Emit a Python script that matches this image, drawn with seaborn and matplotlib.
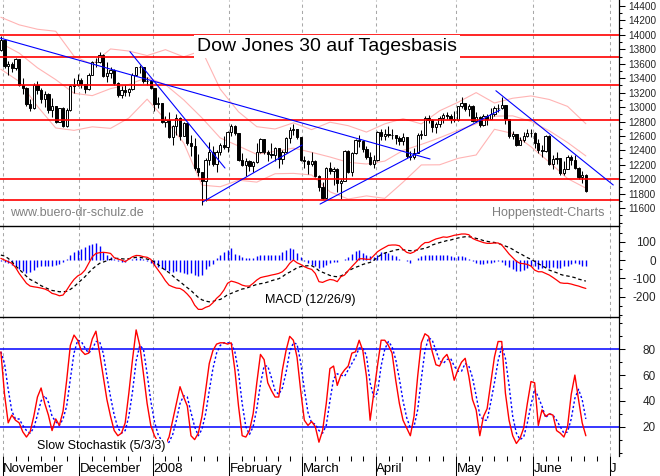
import numpy as np
import pandas as pd
import matplotlib
matplotlib.use("Agg")
import matplotlib.pyplot as plt
import seaborn as sns
from matplotlib.transforms import blended_transform_factory

# --- Data (trading day 0 = 31 Oct 2007 ... 160 = 20 Jun 2008) ---
opens = [
    13792,
    13930, 13568, 13595, 13543, 13661, 13300, 13266, 13043, 12988, 13307,
    13231, 13110, 13177, 12958, 13010, 12799, 12981, 12743, 12958, 13289,
    13312, 13372, 13315, 13249, 13445, 13620, 13626, 13727, 13433, 13474,
    13518, 13340, 13167, 13232, 13207, 13246, 13451, 13549, 13552, 13360,
    13366, 13265, 13044, 13057, 12800, 12827, 12589, 12735, 12853, 12606,
    12778, 12501, 12466, 12159, 12099, 11971, 12270, 12378, 12207, 12384,
    12480, 12443, 12650, 12743, 12635, 12265, 12200, 12247, 12182, 12240,
    12373, 12552, 12377, 12348, 12337, 12427, 12284, 12381, 12570, 12685,
    12694, 12582, 12266, 12259, 12214, 12255, 12040, 11894, 11740, 12157,
    12110, 12146, 11951, 11972, 12393, 12100, 12361, 12549, 12533, 12423,
    12302, 12216, 12263, 12654, 12606, 12626, 12609, 12612, 12576, 12527,
    12582, 12325, 12302, 12362, 12619, 12620, 12849, 12825, 12720, 12763,
    12849, 12892, 12872, 12831, 12820, 13010, 13058, 12970, 13021, 12814,
    12867, 12746, 12876, 12832, 12898, 12993, 12987, 13028, 12829, 12601,
    12626, 12480, 12548, 12594, 12646, 12638, 12504, 12403, 12390, 12604,
    12210, 12280, 12290, 12084, 12142, 12307, 12269, 12160, 12029, 12063,
]
highs = [
    13990,
    13930, 13640, 13620, 13680, 13670, 13400, 13280, 13110, 13330, 13360,
    13270, 13220, 13190, 13120, 13010, 12990, 13000, 12990, 13300, 13400,
    13460, 13400, 13320, 13470, 13640, 13680, 13760, 13740, 13620, 13560,
    13530, 13350, 13290, 13300, 13270, 13470, 13560, 13580, 13560, 13420,
    13380, 13270, 13140, 13060, 12880, 12930, 12750, 12900, 12860, 12800,
    12780, 12610, 12570, 12350, 12100, 12290, 12520, 12460, 12400, 12500,
    12600, 12670, 12770, 12750, 12640, 12370, 12290, 12270, 12260, 12500,
    12570, 12560, 12400, 12500, 12450, 12440, 12400, 12590, 12720, 12760,
    12700, 12590, 12320, 12270, 12380, 12270, 12060, 11960, 12170, 12240,
    12170, 12160, 12010, 12400, 12400, 12380, 12560, 12610, 12540, 12460,
    12380, 12330, 12670, 12700, 12700, 12740, 12700, 12620, 12600, 12640,
    12590, 12390, 12430, 12640, 12680, 12880, 12890, 12830, 12790, 12880,
    12920, 12930, 12900, 12950, 13020, 13140, 13060, 13040, 13030, 12930,
    12880, 12910, 12900, 12990, 13010, 13050, 13140, 13030, 12830, 12670,
    12630, 12580, 12650, 12700, 12700, 12650, 12560, 12480, 12620, 12620,
    12330, 12380, 12300, 12250, 12330, 12340, 12330, 12170, 12120, 12070,
]
lows = [
    13780,
    13540, 13440, 13480, 13520, 13290, 13180, 13010, 12940, 12980, 13180,
    13060, 13000, 12920, 12870, 12780, 12790, 12720, 12730, 12950, 13200,
    13290, 13260, 13200, 13240, 13440, 13560, 13610, 13420, 13350, 13400,
    13300, 13140, 13120, 13150, 13150, 13240, 13440, 13470, 13340, 13300,
    13250, 12950, 12990, 12780, 12730, 12570, 12480, 12620, 12550, 12600,
    12480, 12320, 12130, 12050, 11640, 11700, 12200, 12180, 12100, 12340,
    12420, 12380, 12600, 12610, 12250, 12180, 12050, 12110, 12100, 12230,
    12360, 12350, 12250, 12300, 12250, 12160, 12210, 12360, 12500, 12620,
    12560, 12250, 12160, 12080, 12190, 12030, 11840, 11730, 11740, 12070,
    11920, 11830, 11730, 11970, 12090, 12050, 12350, 12450, 12380, 12280,
    12200, 12160, 12260, 12540, 12540, 12590, 12560, 12490, 12470, 12480,
    12290, 12270, 12280, 12360, 12560, 12620, 12780, 12660, 12640, 12720,
    12780, 12840, 12780, 12800, 12810, 12990, 12940, 12880, 12800, 12790,
    12720, 12740, 12750, 12830, 12880, 12930, 12970, 12770, 12570, 12560,
    12460, 12470, 12520, 12580, 12590, 12440, 12360, 12310, 12380, 12200,
    12140, 12210, 12060, 12060, 12140, 12200, 12140, 12000, 11950, 11820,
]
closes = [
    13930,
    13568, 13595, 13543, 13661, 13300, 13266, 13043, 12988, 13307, 13231,
    13110, 13177, 12958, 13010, 12799, 12981, 12743, 12958, 13289, 13312,
    13372, 13315, 13249, 13445, 13620, 13626, 13727, 13433, 13474, 13518,
    13340, 13167, 13232, 13207, 13246, 13451, 13549, 13552, 13360, 13366,
    13265, 13044, 13057, 12800, 12827, 12589, 12735, 12853, 12606, 12778,
    12501, 12466, 12159, 12099, 11971, 12270, 12378, 12207, 12384, 12480,
    12443, 12650, 12743, 12635, 12265, 12200, 12247, 12182, 12240, 12373,
    12552, 12377, 12348, 12337, 12427, 12284, 12381, 12570, 12685, 12694,
    12582, 12266, 12259, 12214, 12255, 12040, 11894, 11740, 12157, 12110,
    12146, 11951, 11972, 12393, 12100, 12361, 12549, 12533, 12423, 12302,
    12216, 12263, 12654, 12606, 12626, 12609, 12612, 12576, 12527, 12582,
    12325, 12302, 12362, 12619, 12620, 12849, 12825, 12720, 12763, 12849,
    12892, 12872, 12831, 12820, 13010, 13058, 12970, 13021, 12814, 12867,
    12746, 12876, 12832, 12898, 12993, 12987, 13028, 12829, 12601, 12626,
    12480, 12548, 12594, 12646, 12638, 12504, 12403, 12390, 12604, 12210,
    12280, 12290, 12084, 12142, 12307, 12269, 12160, 12029, 12063, 11843,
]

# Bollinger bands, read every 5th trading day
bb_day = [0, 5, 10, 15, 20, 25, 30, 35, 40, 45, 50, 55, 60, 65, 70, 75, 80,
          85, 90, 95, 100, 105, 110, 115, 120, 125, 130, 135, 140, 145, 150, 155, 160]
bb_mid = [13885, 13748, 13545, 13381, 13192, 13159, 13256, 13313, 13412, 13312, 13101,
          12851, 12573, 12461, 12345, 12387, 12432, 12374, 12309, 12235, 12212, 12252,
          12400, 12483, 12575, 12678, 12769, 12875, 12879, 12803, 12672, 12510, 12324]
bb_upper = [14245, 14140, 14079, 14051, 13706, 13591, 13806, 13777, 13714, 13796, 13697,
            13783, 13249, 12935, 12729, 12697, 12782, 12688, 12791, 12743, 12654, 12768,
            12840, 12767, 12949, 13066, 13201, 13057, 13123, 13155, 13106, 13010, 12770]
bb_lower = [13525, 13356, 13011, 12711, 12678, 12727, 12706, 12849, 13110, 12828, 12505,
            11919, 11897, 11987, 11961, 12077, 12082, 12060, 11827, 11727, 11770, 11736,
            11960, 12199, 12201, 12290, 12337, 12693, 12635, 12451, 12238, 12010, 11878]

# support / resistance lines and trend lines (start day, start price, end day, end price)
resistance = [14000, 13690, 13310, 12820, 12000, 11715]
trend_x0 = [-0.2, 35.3, 55.3, 87.3, 135.4]
trend_y0 = [13957, 13768, 11689, 11657, 13227]
trend_x1 = [117.4, 61.3, 82.4, 136.5, 167.5]
trend_y1 = [12281, 12156, 12475, 12960, 11921]

macd_line = [
    9, 0, -9, -18, -40, -73, -100, -127, -142, -146,
    -149, -153, -158, -167, -182, -187, -195, -191, -164, -133,
    -106, -87, -76, -55, -18, 18, 36, 40, 42, 40,
    36, 13, 5, 0, -9, 5, 18, 25, 24, 18,
    15, 4, -27, -55, -82, -113, -137, -146, -153, -155,
    -167, -186, -209, -246, -269, -269, -258, -251, -233, -209,
    -191, -164, -127, -115, -120, -127, -137, -142, -142, -127,
    -109, -96, -91, -87, -82, -78, -73, -64, -45, -18,
    0, -15, -24, -36, -45, -51, -73, -118, -122, -113,
    -106, -109, -118, -91, -82, -58, -36, -15, 7, 7,
    4, 4, 24, 45, 58, 69, 80, 82, 82, 78,
    58, 42, 36, 44, 58, 80, 95, 96, 106, 115,
    120, 126, 124, 129, 135, 138, 142, 142, 138, 118,
    109, 102, 95, 91, 91, 93, 93, 82, 58, 33,
    13, -7, -18, -20, -24, -33, -55, -64, -64, -73,
    -82, -95, -109, -124, -127, -127, -131, -137, -142, -149,
    -155,
]
signal_line = [
    27, 22, 9, -9, -31, -51, -69, -89, -106, -116,
    -127, -140, -149, -158, -166, -169, -173, -173, -171, -160,
    -146, -127, -109, -91, -69, -49, -33, -18, -11, -4,
    4, 9, 9, 7, 5, 7, 11, 15, 15, 11,
    5, 0, -11, -24, -42, -55, -69, -86, -104, -118,
    -135, -151, -166, -186, -204, -217, -224, -228, -226, -218,
    -215, -204, -189, -182, -173, -166, -158, -155, -147, -140,
    -133, -129, -126, -120, -113, -107, -102, -91, -76, -66,
    -55, -42, -36, -33, -31, -31, -42, -58, -67, -75,
    -84, -89, -91, -87, -76, -60, -49, -40, -33, -24,
    -18, -13, -2, 15, 29, 38, 44, 49, 55, 58,
    56, 53, 51, 51, 55, 60, 64, 71, 82, 89,
    95, 100, 106, 109, 115, 120, 124, 127, 127, 124,
    118, 113, 106, 102, 98, 96, 91, 84, 76, 69,
    58, 45, 36, 24, 13, 4, -7, -20, -31, -42,
    -55, -62, -69, -78, -84, -87, -91, -96, -104, -109,
    -115,
]
macd_hist = [
    -5, -10, -15, -25, -35, -50, -60, -70, -65, -55,
    -40, -35, -35, -30, -30, -28, -20, -10, 5, 25,
    45, 55, 60, 70, 80, 85, 95, 75, 45, 30,
    15, 5, -5, -10, -10, 0, 5, 10, 10, 5,
    -5, -15, -25, -40, -45, -55, -60, -65, -60, -65,
    -70, -75, -70, -80, -85, -80, -50, -35, -20, 10,
    30, 45, 55, 65, 35, 25, 15, 10, 10, 10,
    20, 30, 30, 30, 30, 25, 30, 45, 55, 65,
    60, 40, 15, -5, -15, -25, -35, -45, -40, -25,
    -15, -10, -10, 0, 5, 15, 35, 50, 55, 40,
    30, 20, 15, 30, 45, 45, 40, 30, 20, 5,
    0, -5, -15, 0, 10, 20, 30, 30, 25, 25,
    25, 25, 25, 20, 15, 20, 20, 15, 5, -5,
    -15, -20, -20, -15, -15, -10, -5, -10, -25, -40,
    -50, -60, -60, -55, -45, -30, -35, -50, -45, -40,
    -45, -40, -45, -45, -35, -30, -20, -15, -20, -30,
    -35,
]
stoch_k = [
    78, 45, 23, 29, 25, 23, 16, 12, 16, 28,
    43, 50, 38, 29, 17, 26, 21, 32, 56, 83,
    91, 87, 79, 76, 77, 88, 94, 77, 59, 41,
    28, 17, 13, 15, 23, 46, 72, 95, 83, 61,
    38, 21, 13, 8, 5, 6, 12, 25, 38, 51,
    43, 36, 13, 10, 15, 28, 48, 69, 79, 84,
    85, 85, 84, 85, 64, 36, 13, 12, 17, 30,
    54, 76, 72, 54, 48, 43, 43, 64, 79, 90,
    87, 74, 48, 25, 21, 24, 20, 8, 17, 38,
    65, 67, 52, 60, 64, 67, 77, 78, 87, 79,
    59, 25, 46, 67, 87, 87, 83, 77, 56, 38,
    25, 19, 13, 28, 59, 85, 92, 90, 78, 68,
    67, 73, 76, 69, 56, 64, 70, 73, 59, 41,
    33, 13, 28, 34, 54, 74, 86, 86, 46, 25,
    13, 7, 11, 19, 38, 55, 54, 21, 33, 28,
    30, 29, 17, 15, 12, 20, 45, 60, 41, 23,
    13,
]
stoch_d = [
    78, 69, 49, 32, 26, 26, 21, 17, 15, 19,
    29, 40, 44, 39, 28, 24, 21, 26, 36, 57,
    77, 87, 86, 81, 77, 80, 86, 86, 77, 59,
    43, 29, 19, 15, 17, 28, 47, 71, 83, 80,
    61, 40, 24, 14, 9, 6, 8, 14, 25, 38,
    44, 43, 31, 20, 13, 18, 30, 48, 65, 77,
    83, 85, 85, 85, 78, 62, 38, 20, 14, 20,
    34, 53, 67, 67, 58, 48, 45, 50, 62, 78,
    85, 84, 70, 49, 31, 23, 22, 17, 15, 21,
    40, 57, 61, 60, 59, 64, 69, 74, 81, 81,
    75, 54, 43, 46, 67, 80, 86, 82, 72, 57,
    40, 27, 19, 20, 33, 57, 79, 89, 87, 79,
    71, 69, 72, 73, 67, 63, 63, 69, 67, 58,
    44, 29, 25, 25, 39, 54, 71, 82, 73, 52,
    28, 15, 10, 12, 23, 37, 49, 43, 36, 27,
    30, 29, 25, 20, 15, 16, 26, 42, 49, 41,
    26,
]

# first trading day of each month (index), and month captions
month_first_day = [1, 22, 42, 63, 83, 103, 125, 146, 167]
month_names = ["November", "December", "2008", "February", "March",
               "April", "May", "June", "J"]

# --- Style ---
sns.set_style("white")
plt.rcParams["font.family"] = ["Liberation Sans", "DejaVu Sans"]
plt.rcParams["axes.unicode_minus"] = False

W, H = 660, 476
AX_RIGHT = 619          # pixel column of the right-hand scale
PT = 0.72               # points per pixel at 100 dpi

fig = plt.figure(figsize=(W / 100, H / 100), dpi=100)


def add_panel(top, bottom):
    ax = fig.add_axes([0, 1 - bottom / H, AX_RIGHT / W, (bottom - top) / H])
    ax.set_facecolor("white")
    for side in ["left", "bottom", "top"]:
        ax.spines[side].set_visible(False)
    ax.spines["right"].set_color("black")
    ax.spines["right"].set_linewidth(0.9)
    return ax


ax_p = add_panel(0, 226)
ax_m = add_panel(226, 317)
ax_s = add_panel(317, 456)
for ax in (ax_m, ax_s):
    ax.spines["top"].set_visible(True)
    ax.spines["top"].set_color("black")
    ax.spines["top"].set_linewidth(1.0)

days = np.arange(len(closes))
o = np.array(opens, dtype=float)
c = np.array(closes, dtype=float)
bounds = np.array(month_first_day) - 0.5

# month separators (dashed grey)
for ax in (ax_p, ax_m, ax_s):
    for b in bounds:
        ax.axvline(b, color="#a8a8a8", lw=0.75, ls=(0, (3, 3)), zorder=0)

# --- Price panel ---
df_bb = pd.DataFrame({"day": bb_day, "mid": bb_mid, "upper": bb_upper, "lower": bb_lower})
for col in ["upper", "mid", "lower"]:
    sns.lineplot(data=df_bb, x="day", y=col, color="#ffb4b4", linewidth=0.8,
                 ax=ax_p, legend=False, errorbar=None, zorder=1)

ax_p.vlines(days, lows, highs, color="black", lw=0.75, zorder=2)
up = c >= o
ax_p.bar(days, np.maximum(np.abs(c - o), 6), bottom=np.minimum(o, c), width=0.62,
         color=np.where(up, "white", "black"), edgecolor="black", linewidth=0.7, zorder=2.5)

for v in resistance:
    ax_p.axhline(v, color="red", lw=1.2, zorder=3)
for x0, y0, x1, y1 in zip(trend_x0, trend_y0, trend_x1, trend_y1):
    ax_p.plot([x0, x1], [y0, y1], color="blue", lw=0.8, zorder=4)

ax_p.set_ylim(11353, 14484)

# --- MACD panel ---
df_macd = pd.DataFrame({"day": days, "macd": macd_line, "signal": signal_line, "hist": macd_hist})
ax_m.vlines(df_macd["day"], 0, df_macd["hist"], color="blue", lw=1.0, zorder=2)
sns.lineplot(data=df_macd, x="day", y="signal", color="black", linewidth=0.9,
             linestyle=(0, (2.8, 2.2)), ax=ax_m, legend=False, errorbar=None, zorder=3)
sns.lineplot(data=df_macd, x="day", y="macd", color="red", linewidth=0.9,
             ax=ax_m, legend=False, errorbar=None, zorder=3)
ax_m.set_ylim(-310.7, 185.6)

# --- Stochastic panel ---
df_sto = pd.DataFrame({"day": days, "k": stoch_k, "d": stoch_d})
ax_s.axhline(80, color="blue", lw=1.1, zorder=2)
ax_s.axhline(20, color="blue", lw=1.1, zorder=2)
sns.lineplot(data=df_sto, x="day", y="d", color="blue", linewidth=1.0,
             linestyle=(0, (1.6, 1.6)), ax=ax_s, legend=False, errorbar=None, zorder=3)
sns.lineplot(data=df_sto, x="day", y="k", color="red", linewidth=1.0,
             ax=ax_s, legend=False, errorbar=None, zorder=3)
ax_s.set_ylim(-2.7, 105)

# --- shared x axis ---
for ax in (ax_p, ax_m, ax_s):
    ax.set_xlim(-0.24, 169.07)
    ax.set_xlabel("")
    ax.set_ylabel("")
for ax in (ax_p, ax_m):
    ax.tick_params(axis="x", which="both", bottom=False, labelbottom=False)

minor_x = []
for b0, b1 in zip(bounds[:-1], bounds[1:]):
    minor_x += [b0 + j * (b1 - b0) / 6 for j in range(1, 6)]
ax_s.set_xticks(bounds)
ax_s.set_xticks(minor_x, minor=True)
ax_s.tick_params(axis="x", which="both", bottom=True, labelbottom=False,
                 direction="out", color="black", width=0.75)
ax_s.tick_params(axis="x", which="major", length=20 * PT)
ax_s.tick_params(axis="x", which="minor", length=5 * PT)

trans = blended_transform_factory(ax_s.transData, fig.transFigure)
for b, name in zip(bounds, month_names):
    ax_s.text(b + 0.15, 1 - 472 / H, name, transform=trans, fontsize=9.5,
              ha="left", va="baseline", color="black")


# --- right-hand scales ---
def right_scale(ax, major, labels, minor, size):
    ax.set_yticks(major)
    ax.set_yticklabels(labels)
    ax.set_yticks(minor, minor=True)
    ax.tick_params(axis="y", which="both", left=False, right=True, labelleft=False,
                   labelright=True, direction="out", color="black", width=0.75)
    ax.tick_params(axis="y", which="major", length=6 * PT, pad=(37 - 6) * PT, labelsize=size)
    ax.tick_params(axis="y", which="minor", length=3 * PT)
    for t in ax.get_yticklabels():
        t.set_horizontalalignment("right")


price_ticks = list(range(11600, 14401, 200))
right_scale(ax_p, price_ticks, [str(v) for v in price_ticks],
            list(range(11400, 14401, 100)), 7.2)
right_scale(ax_m, [-200, -100, 0, 100], ["-200", "-100", "0", "100"],
            [-300, -250, -150, -50, 50, 150], 8.5)
right_scale(ax_s, [20, 40, 60, 80], ["20", "40", "60", "80"],
            [0, 10, 30, 50, 70, 90, 100], 8.5)

# --- captions ---
fig.text(197 / W, 1 - 50.7 / H, "Dow Jones 30 auf Tagesbasis", fontsize=14,
         ha="left", va="baseline", color="black",
         bbox=dict(facecolor="white", edgecolor="none", boxstyle="square,pad=0.15"))
fig.text(10 / W, 1 - 216.5 / H, "www.buero-dr-schulz.de", fontsize=9,
         color="#808080", ha="left", va="baseline")
fig.text(492 / W, 1 - 216 / H, "Hoppenstedt-Charts", fontsize=9,
         color="#808080", ha="left", va="baseline")
fig.text(265 / W, 1 - 302.7 / H, "MACD (12/26/9)", fontsize=9, ha="left", va="baseline",
         color="black",
         bbox=dict(facecolor="white", edgecolor="none", boxstyle="square,pad=0.1"))
fig.text(37.3 / W, 1 - 449.3 / H, "Slow Stochastik (5/3/3)", fontsize=9, ha="left",
         va="baseline", color="black",
         bbox=dict(facecolor="white", edgecolor="none", boxstyle="square,pad=0.1"))

fig.savefig("out.png", dpi=100)
